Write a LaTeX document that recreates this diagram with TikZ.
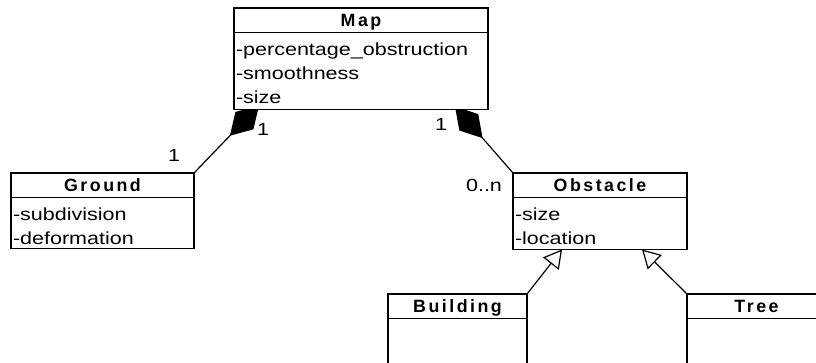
\documentclass[tikz,border=0pt]{standalone}
\usepackage{fontspec}
\setmainfont{Liberation Sans}[FakeStretch=1.23]
\newfontfamily\titlefont{Liberation Sans}[LetterSpace=14]
\usetikzlibrary{arrows.meta,calc}
\pgfdeclarelayer{background}
\pgfsetlayers{background,main}
\tikzset{
	classtitle/.style={draw,line width=1.6pt,fill=white,inner sep=0pt,outer sep=0pt,anchor=north west,
		minimum height=24.5pt,text height=12.7pt,text depth=0pt,
		font=\titlefont\bfseries\fontsize{17.8}{20}\selectfont},
	classbody/.style={draw,line width=1.6pt,fill=white,inner xsep=2pt,inner ysep=0pt,outer sep=0pt,anchor=north,
		align=left,text height=23pt,font=\fontsize{17.5}{24}\selectfont},
	comp/.style={line width=1.2pt,-{Diamond[length=42pt,width=25pt]}},
	inherit/.style={line width=1.2pt,-{Triangle[open,length=18pt,width=20pt]}},
	mult/.style={inner sep=0pt,font=\fontsize{17.5}{20}\selectfont}
}
\begin{document}
\begin{tikzpicture}[x=1pt,y=-1pt]
	\clip (0,0) rectangle (816,363);
	\node[classtitle,minimum width=254pt] (map) at (234,8) {Map};
	\node[classbody,text width=250pt,text depth=54pt] (mapbody) at (map.south)
		{-percentage\_obstruction\\-smoothness\\-size};
	\node[classtitle,minimum width=183pt] (ground) at (11,173) {Ground};
	\node[classbody,text width=179pt,text depth=28pt] (groundbody) at (ground.south)
		{-subdivision\\-deformation};
	\node[classtitle,minimum width=174pt] (obstacle) at (513,173) {Obstacle};
	\node[classbody,text width=170pt,text depth=29pt] (obstaclebody) at (obstacle.south)
		{-size\\-location};
	\node[classtitle,minimum width=139pt] (building) at (388,294) {Building};
	\node[classbody,text width=135pt,text depth=22pt] (buildingbody) at (building.south) {};
	\node[classtitle,minimum width=139pt] (tree) at (687,294) {Tree};
	\node[classbody,text width=135pt,text depth=22pt] (treebody) at (tree.south) {};
	% multiplicities
	\node[mult] (mground) at (174,155) {1};
	\node[mult] (mmapl) at (263,129) {1};
	\node[mult] (mmapr) at (441,124) {1};
	\node[mult] (mobstacle) at (484,185) {0..n};
	% connectors behind the boxes
	\coordinate (mapl) at ($(mapbody.south west)+(25,-4)$);
	\coordinate (mapr) at ($(mapbody.south east)+(-33,-3)$);
	\coordinate (obstaclel) at ($(obstaclebody.south west)+(49,0)$);
	\coordinate (obstacler) at ($(obstaclebody.south east)+(-45,0)$);
	\begin{pgfonlayer}{background}
		\draw[comp] (ground.north east) -- (mapl);
		\draw[comp] (obstacle.north west) -- (mapr);
		\draw[inherit] (building.north east) -- (obstaclel);
		\draw[inherit] (tree.north west) -- (obstacler);
	\end{pgfonlayer}
\end{tikzpicture}
\end{document}
